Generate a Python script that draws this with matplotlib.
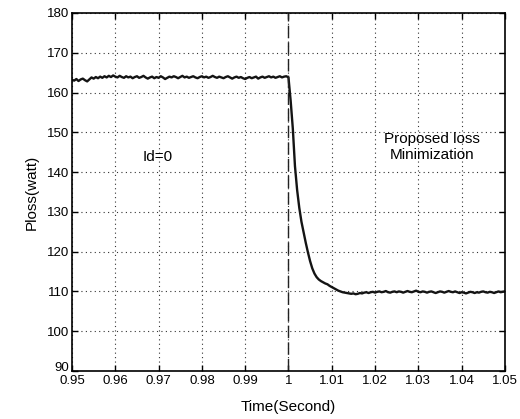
import numpy as np
import matplotlib
matplotlib.use("Agg")
import matplotlib.pyplot as plt
import matplotlib.transforms as mtransforms

plt.rcParams['font.family'] = ['Liberation Sans', 'DejaVu Sans']

# time samples (s)
time = np.round(np.arange(0.95, 1.05001, 0.0005), 4)

# loss before the step (0.95 .. 0.9995)
loss_before = [
    163.2, 163.0, 163.4, 162.9, 163.3, 163.5, 163.1, 162.8, 163.3, 163.8,
    163.5, 163.9, 163.6, 164.0, 163.7, 164.1, 163.8, 164.2, 163.9, 164.3,
    164.0, 163.8, 164.2, 163.9, 163.7, 164.1, 163.8, 164.0, 163.6, 163.9,
    164.1, 163.7, 163.9, 164.2, 163.8, 163.5, 163.8, 164.0, 163.6, 163.9,
    163.7, 164.1, 163.8, 163.4, 163.7, 164.0, 163.8, 164.1, 163.9, 163.6,
    163.9, 164.2, 163.8, 164.0, 163.7, 163.9, 164.1, 163.8, 163.6, 163.9,
    164.1, 163.8, 164.0, 163.7, 163.9, 164.2, 163.9, 163.7, 164.0, 163.8,
    163.6, 163.9, 164.1, 163.8, 163.5, 163.8, 164.0, 163.7, 163.9, 163.6,
    163.4, 163.7, 163.9, 163.6, 163.8, 164.0, 163.5, 163.8, 164.0, 163.7,
    163.9, 164.1, 163.8, 164.0, 163.7, 163.9, 164.1, 163.8, 164.0, 164.1,
]

# loss from the step onwards (1.0 .. 1.05)
loss_after = [
    163.8, 158.0, 151.0, 141.5, 135.5, 131.0, 127.5, 124.8, 122.2, 119.8,
    117.6, 115.8, 114.5, 113.6, 113.0, 112.6, 112.3, 112.0, 111.8, 111.4,
    111.1, 110.8, 110.5, 110.2, 110.0, 109.8, 109.7, 109.6, 109.5, 109.4,
    109.5, 109.3, 109.4, 109.6, 109.5, 109.7, 109.8, 109.6, 109.8, 109.9,
    109.7, 109.9, 110.0, 109.8, 109.9, 110.1, 109.8, 109.7, 109.9, 110.0,
    109.8, 110.0, 109.9, 109.7, 109.9, 110.1, 109.9, 109.8, 110.0, 110.2,
    109.9, 109.8, 110.0, 109.9, 109.7, 109.9, 110.0, 109.8, 109.6, 109.8,
    110.0, 109.9, 109.7, 109.9, 110.1, 109.9, 109.8, 110.0, 109.8, 109.6,
    109.8, 109.7, 109.5, 109.7, 109.9, 109.8, 109.6, 109.8, 109.7, 109.9,
    110.0, 109.8, 109.7, 109.9, 109.8, 109.6, 109.8, 110.0, 109.8, 109.9,
    110.0,
]

loss = loss_before + loss_after

x_ticks = [0.95, 0.96, 0.97, 0.98, 0.99, 1.0, 1.01, 1.02, 1.03, 1.04, 1.05]
x_labels = ['0.95', '0.96', '0.97', '0.98', '0.99', '1', '1.01', '1.02', '1.03', '1.04', '1.05']
y_ticks = [90, 100, 110, 120, 130, 140, 150, 160, 170, 180]
step_time = 1.0

fig = plt.figure(figsize=(5.2, 4.19), dpi=100)
ax = fig.add_axes([0.1385, 0.1146, 0.8325, 0.8544])

ax.plot(time, loss, color='#141414', lw=1.7)
ax.axvline(step_time, color='#222222', lw=1.0, dashes=(9, 3))

ax.set_xlim(0.95, 1.05)
ax.set_ylim(90, 180)
ax.set_xticks(x_ticks)
ax.set_xticklabels(x_labels)
ax.set_yticks(y_ticks)
ax.grid(True, color='#333333', linestyle=(0, (1, 3)), lw=0.8)
ax.tick_params(direction='in', top=True, right=True, length=4, width=1, labelsize=9.5, pad=2)
ax.tick_params(axis='x', pad=3)
for s in ax.spines.values():
    s.set_linewidth(1.2)
    s.set_color('black')

# nudge the lowest y tick label up a little, as in the reference
lbl = ax.get_yticklabels()[0]
lbl.set_transform(lbl.get_transform() + mtransforms.ScaledTranslation(0, 3 / 72, fig.dpi_scale_trans))

ax.set_xlabel('Time(Second)', fontsize=11, labelpad=9)
ax.set_ylabel('Ploss(watt)', fontsize=11, labelpad=6)

ax.text(0.9699, 143.8, 'Id=0', fontsize=11, ha='center', va='center')
ax.text(1.0331, 146.3, 'Proposed loss\nMinimization', fontsize=11, ha='center', va='center',
        linespacing=1.25)

fig.savefig('out.png', dpi=100)
